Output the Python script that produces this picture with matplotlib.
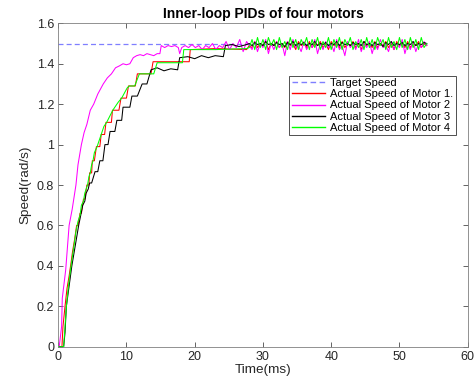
import numpy as np
import matplotlib
matplotlib.use("Agg")
import matplotlib.pyplot as plt

plt.rcParams['font.family'] = ['Liberation Sans', 'DejaVu Sans']

# target speed (rad/s) over the run
target_t = [0, 54]
target_v = [1.5, 1.5]

# rise part of each motor (time in ms, speed in rad/s)
m1_t = [0, 0.55, 0.7, 1.0, 1.3, 1.6, 1.9, 2.1, 2.4, 2.7,
        2.9, 3.2, 3.4, 3.7, 3.9, 4.2, 4.5, 4.6, 4.9, 5.0,
        5.3, 5.6, 6.1, 6.3, 6.8, 7.0, 7.8, 7.95, 8.9, 9.2,
        10.0, 10.3, 11.3, 11.6, 13.6, 13.9, 19.2, 19.35, 23.0, 27.6]
m1_v = [0, 0, 0.1, 0.2, 0.29, 0.35, 0.42, 0.47, 0.53, 0.6,
        0.6, 0.66, 0.66, 0.73, 0.73, 0.8, 0.8, 0.86, 0.86, 0.92,
        0.92, 0.99, 0.99, 1.05, 1.05, 1.11, 1.11, 1.17, 1.17, 1.23,
        1.23, 1.29, 1.29, 1.35, 1.35, 1.41, 1.41, 1.47, 1.475, 1.47]

m2_t = [0, 0.15, 0.5, 0.6, 1.1, 1.6, 2.05, 2.6, 2.9, 3.4,
        3.8, 4.2, 4.7, 5.2, 5.8, 6.6, 7.2, 7.8, 8.4, 9.0,
        9.5, 10.0, 10.5, 11.0, 11.5, 12.0, 12.5, 13.0, 13.5, 14.0,
        14.5, 14.9, 15.1, 15.6, 16.1, 16.6, 17.1, 17.6, 17.8, 18.1,
        18.6, 19.1, 19.6, 20.1, 20.6, 21.1, 21.6, 22.1, 22.6, 23.1,
        23.6, 24.1, 24.6, 25.1, 25.6, 26.1, 26.6, 27.1, 27.6]
m2_v = [0, 0, 0.1, 0.24, 0.38, 0.6, 0.68, 0.8, 0.9, 1.0,
        1.06, 1.1, 1.17, 1.2, 1.25, 1.3, 1.33, 1.35, 1.38, 1.39,
        1.40, 1.395, 1.40, 1.43, 1.44, 1.445, 1.44, 1.45, 1.445, 1.44,
        1.45, 1.45, 1.49, 1.48, 1.49, 1.485, 1.49, 1.48, 1.45, 1.48,
        1.49, 1.48, 1.495, 1.48, 1.49, 1.47, 1.49, 1.48, 1.50, 1.47,
        1.49, 1.48, 1.51, 1.47, 1.50, 1.48, 1.52, 1.46, 1.51]

m3_t = [0, 0.8, 1.0, 1.2, 1.6, 2.0, 2.5, 3.0, 3.3, 3.6,
        3.9, 4.1, 4.4, 4.6, 4.9, 5.4, 5.8, 6.1, 6.55, 6.85,
        7.3, 7.6, 8.3, 8.6, 9.3, 9.5, 10.5, 10.8, 11.6, 12.3,
        13.0, 13.6, 14.5, 15.5, 16.5, 17.5, 17.8, 19.0, 20.0, 21.0,
        22.0, 23.0, 24.2, 24.5, 25.5, 26.5, 27.6]
m3_v = [0, 0, 0.07, 0.2, 0.3, 0.4, 0.5, 0.6, 0.65, 0.7,
        0.72, 0.76, 0.78, 0.81, 0.81, 0.866, 0.866, 0.92, 0.92, 1.0,
        1.0, 1.065, 1.065, 1.12, 1.12, 1.185, 1.185, 1.24, 1.24, 1.30,
        1.30, 1.37, 1.38, 1.365, 1.375, 1.37, 1.43, 1.435, 1.425, 1.44,
        1.43, 1.44, 1.435, 1.49, 1.495, 1.485, 1.495]

m4_t = [0, 0.8, 1.0, 1.2, 1.5, 1.8, 2.1, 2.4, 2.6, 2.9,
        3.2, 3.4, 3.7, 3.9, 4.3, 4.5, 4.7, 4.9, 5.1, 5.3,
        5.7, 6.0, 6.3, 6.7, 7.1, 7.7, 8.0, 8.8, 9.3, 10.1,
        10.4, 11.2, 11.9, 14.0, 14.5, 18.2, 18.4, 23.0, 27.6]
m4_v = [0, 0, 0.1, 0.2, 0.3, 0.38, 0.45, 0.52, 0.57, 0.62,
        0.65, 0.7, 0.72, 0.76, 0.8, 0.84, 0.86, 0.9, 0.92, 0.96,
        0.99, 1.02, 1.05, 1.09, 1.11, 1.15, 1.17, 1.21, 1.23, 1.28,
        1.29, 1.29, 1.35, 1.35, 1.405, 1.405, 1.47, 1.47, 1.475]

# steady state part, 28 ms to 54 ms, evenly sampled
steady_start, steady_end = 28, 54
m1_steady = [1.49, 1.48, 1.51, 1.48, 1.50, 1.49, 1.51, 1.47, 1.50, 1.49,
             1.51, 1.48, 1.50, 1.48, 1.51, 1.49, 1.50, 1.47, 1.51, 1.49,
             1.50, 1.48, 1.51, 1.48, 1.50, 1.49, 1.51, 1.48, 1.50, 1.47,
             1.51, 1.49, 1.50, 1.48, 1.51, 1.48, 1.50, 1.49, 1.51, 1.48,
             1.50, 1.47, 1.51, 1.49, 1.50, 1.48, 1.51, 1.48, 1.50, 1.49,
             1.51, 1.48, 1.50, 1.47, 1.51, 1.49, 1.50, 1.48, 1.51, 1.48,
             1.50, 1.49, 1.51, 1.48, 1.50, 1.49]
m2_steady = [1.49, 1.47, 1.51, 1.46, 1.50, 1.48, 1.52, 1.45, 1.50, 1.47,
             1.51, 1.48, 1.50, 1.44, 1.51, 1.47, 1.52, 1.48, 1.49, 1.46,
             1.51, 1.47, 1.50, 1.48, 1.52, 1.45, 1.50, 1.47, 1.51, 1.48,
             1.50, 1.46, 1.52, 1.47, 1.49, 1.44, 1.51, 1.48, 1.50, 1.47,
             1.52, 1.46, 1.50, 1.48, 1.51, 1.45, 1.50, 1.47, 1.52, 1.48,
             1.49, 1.46, 1.51, 1.47, 1.50, 1.48, 1.52, 1.45, 1.50, 1.47,
             1.51, 1.46, 1.50, 1.48, 1.51, 1.49]
m3_steady = [1.50, 1.49, 1.505, 1.495, 1.50, 1.49, 1.51, 1.495, 1.50, 1.49,
             1.505, 1.495, 1.50, 1.485, 1.505, 1.495, 1.51, 1.49, 1.50, 1.495,
             1.505, 1.49, 1.50, 1.495, 1.51, 1.49, 1.50, 1.495, 1.505, 1.49,
             1.50, 1.495, 1.51, 1.49, 1.505, 1.495, 1.50, 1.49, 1.505, 1.495,
             1.50, 1.49, 1.51, 1.495, 1.50, 1.49, 1.505, 1.495, 1.50, 1.485,
             1.505, 1.495, 1.51, 1.49, 1.50, 1.495, 1.505, 1.49, 1.50, 1.495,
             1.51, 1.49, 1.50, 1.495, 1.505, 1.50]
m4_steady = [1.48, 1.52, 1.47, 1.53, 1.48, 1.52, 1.47, 1.53, 1.49, 1.52,
             1.47, 1.53, 1.48, 1.51, 1.47, 1.53, 1.48, 1.52, 1.47, 1.52,
             1.49, 1.53, 1.47, 1.52, 1.48, 1.53, 1.47, 1.51, 1.48, 1.53,
             1.47, 1.52, 1.48, 1.53, 1.47, 1.52, 1.49, 1.53, 1.47, 1.51,
             1.48, 1.52, 1.47, 1.53, 1.48, 1.52, 1.47, 1.53, 1.49, 1.52,
             1.47, 1.53, 1.48, 1.51, 1.47, 1.53, 1.48, 1.52, 1.47, 1.53,
             1.48, 1.52, 1.47, 1.53, 1.48, 1.50]

labels = ["Target Speed", "Actual Speed of Motor 1.", "Actual Speed of Motor 2",
          "Actual Speed of Motor 3", "Actual Speed of Motor 4"]
colors = ["#7f7fff", "#ff0000", "#ff00ff", "#000000", "#00ff00"]


def join(t_rise, v_rise, v_steady):
    t_st = np.linspace(steady_start, steady_end, len(v_steady))
    return np.concatenate([t_rise, t_st]), np.concatenate([v_rise, v_steady])


fig = plt.figure(figsize=(4.77, 3.83), dpi=100)
ax = fig.add_axes([0.122, 0.0948, 0.8585, 0.8443])

ax.plot(target_t, target_v, color=colors[0], linestyle=(0, (4, 2.5)), lw=0.9, label=labels[0])
series = [(m1_t, m1_v, m1_steady), (m2_t, m2_v, m2_steady),
          (m3_t, m3_v, m3_steady), (m4_t, m4_v, m4_steady)]
for i, (tr, vr, vs) in enumerate(series):
    t, v = join(tr, vr, vs)
    ax.plot(t, v, color=colors[i + 1], lw=0.75, label=labels[i + 1])

ax.set_xlim(0, 60)
ax.set_ylim(0, 1.6)
ax.set_xticks(range(0, 61, 10))
ax.set_yticks(np.arange(0, 1.61, 0.2))
ax.set_yticklabels(["0", "0.2", "0.4", "0.6", "0.8", "1", "1.2", "1.4", "1.6"])

axcol = (0.15, 0.15, 0.15)
ax.tick_params(direction='in', length=3.5, width=0.5, top=True, right=True,
               colors=axcol, labelsize=9, pad=3)
for s in ax.spines.values():
    s.set_color((0.5, 0.5, 0.5))
    s.set_linewidth(0.6)

ax.set_xlabel("Time(ms)", fontsize=9.7, color=axcol, labelpad=1)
ax.set_ylabel("Speed(rad/s)", fontsize=9.7, color=axcol, labelpad=4)
ax.set_title("Inner-loop PIDs of four motors", fontsize=10, fontweight='bold', pad=4)

leg = ax.legend(loc='upper right', bbox_to_anchor=(0.971, 0.837), fontsize=8,
                frameon=True, fancybox=False, handlelength=3.0, handletextpad=0.5,
                labelspacing=0.1, borderpad=0.2, borderaxespad=0)
leg.get_frame().set_edgecolor('black')
leg.get_frame().set_linewidth(0.6)
for ln in leg.get_lines():
    ln.set_linewidth(1.0)

plt.savefig("out.png", dpi=100)
